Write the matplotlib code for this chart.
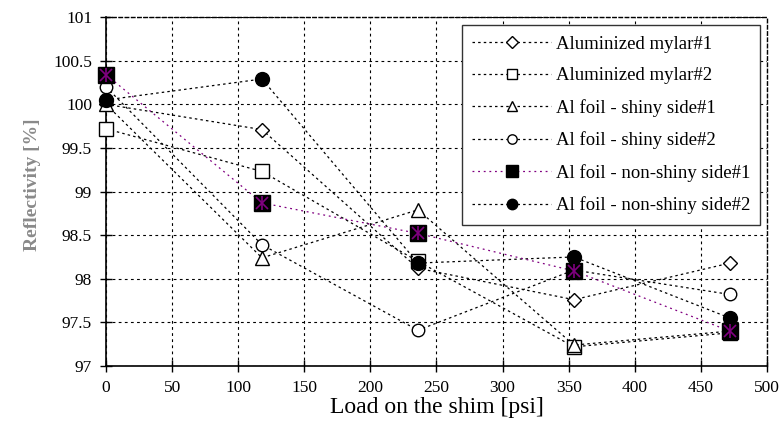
import numpy as np
import matplotlib.pyplot as plt

# load on the shim [psi]
load = [0, 118, 236, 354, 472]

# reflectivity [%] for each sample
mylar1 = [100.00, 99.71, 98.12, 97.76, 98.18]
mylar2 = [99.72, 99.23, 98.20, 97.22, 97.38]
shiny1 = [100.00, 98.24, 98.79, 97.24, 97.40]
shiny2 = [100.20, 98.39, 97.41, 98.10, 97.82]
nonshiny1 = [100.34, 98.87, 98.52, 98.09, 97.40]
nonshiny2 = [100.05, 100.29, 98.18, 98.25, 97.55]

labels = ['Aluminized mylar#1', 'Aluminized mylar#2', 'Al foil - shiny side#1',
          'Al foil - shiny side#2', 'Al foil - non-shiny side#1', 'Al foil - non-shiny side#2']

plt.rcParams['font.family'] = ['Liberation Serif', 'DejaVu Serif']

fig = plt.figure(figsize=(7.81, 4.38), dpi=100)
ax = fig.add_axes([0.1357, 0.1644, 0.8463, 0.7966])

dots = (0, (2.0, 2.5))
lw = 0.9
kw = dict(clip_on=False)
ax.plot(load, mylar1, color='black', ls=dots, lw=lw, marker='D', ms=7.5,
        mfc='white', mec='black', mew=1.0, label=labels[0], zorder=3, **kw)
ax.plot(load, mylar2, color='black', ls=dots, lw=lw, marker='s', ms=9.5,
        mfc='white', mec='black', mew=1.0, label=labels[1], zorder=3, **kw)
ax.plot(load, shiny1, color='black', ls=dots, lw=lw, marker='^', ms=10,
        mfc='white', mec='black', mew=1.0, label=labels[2], zorder=4, **kw)
ax.plot(load, shiny2, color='black', ls=dots, lw=lw, marker='o', ms=9,
        mfc='white', mec='black', mew=1.0, label=labels[3], zorder=4, **kw)
ax.plot(load, nonshiny1, color='#800080', ls=(0, (1.5, 3)), lw=lw, marker='s', ms=11,
        mfc='black', mec='black', mew=1.0, label=labels[4], zorder=6, **kw)
# purple star on top of the black squares
ax.plot(load, nonshiny1, ls='none', marker='x', ms=8, mec='#800080', mew=1.2, zorder=7, **kw)
ax.plot(load, nonshiny1, ls='none', marker='|', ms=10, mec='#800080', mew=1.2, zorder=7, **kw)
ax.plot(load, nonshiny2, color='black', ls=dots, lw=lw, marker='o', ms=10,
        mfc='black', mec='black', label=labels[5], zorder=5, **kw)

ax.set_xlim(0, 500)
ax.set_ylim(97, 101)
ax.set_xticks(np.arange(0, 501, 50))
ax.set_yticks(np.arange(97, 101.01, 0.5))
ax.set_yticklabels(['97', '97.5', '98', '98.5', '99', '99.5', '100', '100.5', '101'])
ax.tick_params(direction='inout', length=8, width=1, labelsize=12.5, pad=6)
ax.grid(True, color='black', ls=(0, (2.5, 3)), lw=0.8)

ax.spines['left'].set_linewidth(1.2)
ax.spines['bottom'].set_linewidth(1.2)
for s in ['top', 'right']:
    ax.spines[s].set_linestyle((0, (2.5, 2)))
    ax.spines[s].set_linewidth(1.0)

ax.set_xlabel('Load on the shim [psi]', fontsize=17, labelpad=1)
ax.set_ylabel('Reflectivity [%]', fontsize=14, fontweight='bold', color='#8a8a8a')
ax.yaxis.set_label_coords(-0.098, 0.52)

handles, labs = ax.get_legend_handles_labels()
leg = ax.legend(handles, labs, loc='upper right', bbox_to_anchor=(0.99, 0.977),
                fontsize=13.5, frameon=True, fancybox=False, framealpha=1,
                edgecolor='#333333', labelspacing=0.78, handlelength=4.2,
                handletextpad=0.25, borderpad=0.55, borderaxespad=0,
                markerscale=0.75)
leg.get_frame().set_linewidth(1.0)

plt.savefig('out.png', dpi=100)
